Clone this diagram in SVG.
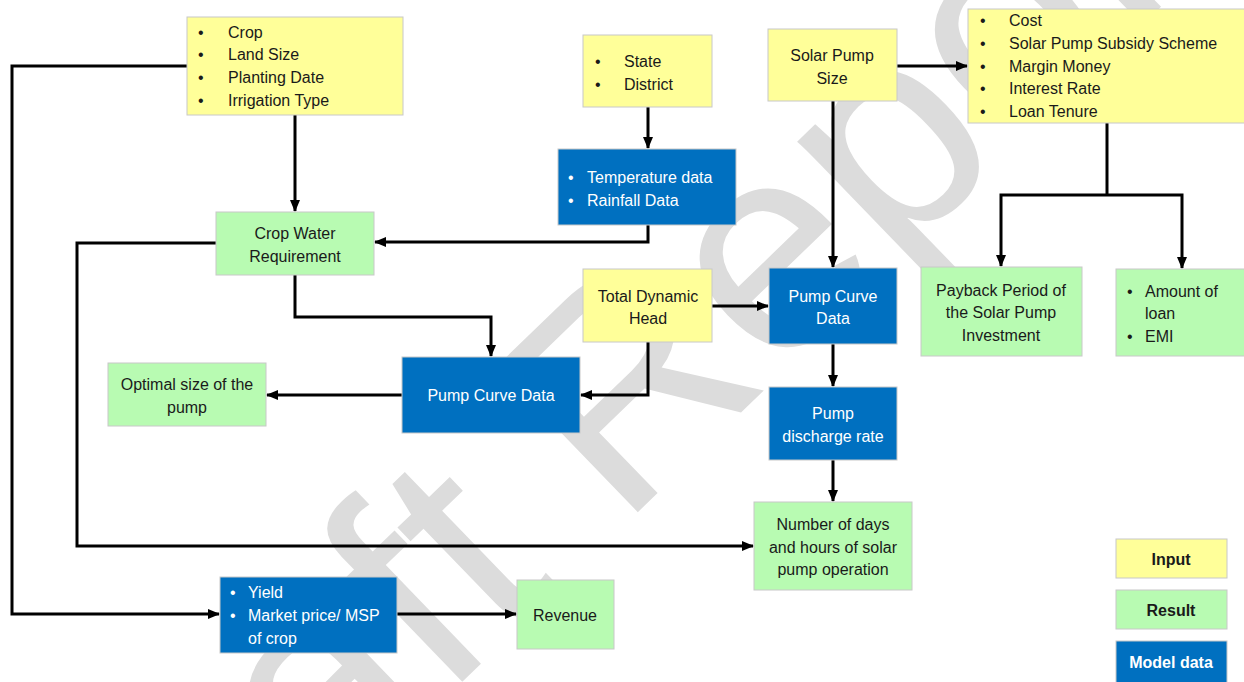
<svg xmlns="http://www.w3.org/2000/svg" width="1244" height="682" viewBox="0 0 1244 682">
<style>
.t{font-family:"Liberation Sans",Arial,sans-serif;font-size:16px;fill:#1a1a1a}
.w{font-family:"Liberation Sans",Arial,sans-serif;font-size:16px;fill:#ffffff}
.c{text-anchor:middle}
.b{font-weight:bold}
.y{fill:#ffff99;stroke:#c8c8c8;stroke-width:1}
.g{fill:#b8fbb2;stroke:#c8c8c8;stroke-width:1}
.m{fill:#0070c0;stroke:#c8c8c8;stroke-width:1}
.ln{fill:none;stroke:#000;stroke-width:3;marker-end:url(#a)}
.ln2{fill:none;stroke:#000;stroke-width:3}
.wm{font-family:"Liberation Sans",Arial,sans-serif;font-size:295px;fill:#dcdcdc}
</style>
<defs>
<marker id="a" markerUnits="userSpaceOnUse" markerWidth="12" markerHeight="12" viewBox="0 0 12 12" refX="11" refY="6" orient="auto">
<path d="M0,1 L12,6 L0,11 Z" fill="#000"/>
</marker>
</defs>
<rect width="1244" height="682" fill="#fff"/>
<g id="watermark"><text class="wm" transform="translate(610,400) rotate(-44)" text-anchor="middle" y="100">Draft Report</text></g>
<g id="connectors">
<path class="ln" d="M187,66 H12 V614 H219"/>
<path class="ln" d="M295,115 V211"/>
<path class="ln" d="M648,225 V242 H375"/>
<path class="ln" d="M216,243 H77 V546 H753"/>
<path class="ln" d="M295,275 V317 H491 V356"/>
<path class="ln" d="M648,342 V395 H581"/>
<path class="ln" d="M402,395 H267"/>
<path class="ln" d="M648,107 V148"/>
<path class="ln" d="M833,101 V267"/>
<path class="ln" d="M897,66 H967"/>
<path class="ln" d="M712,306 H768"/>
<path class="ln" d="M833,344 V386"/>
<path class="ln" d="M833,460 V501"/>
<path class="ln2" d="M1107,123 V195"/>
<path class="ln" d="M1107,195 H1001 V266"/>
<path class="ln" d="M1107,195 H1182 V268"/>
<path class="ln" d="M397,614 H516"/>
</g>
<g id="n-crop"><rect class="y" x="187" y="17" width="216" height="98"/>
<text class="t" x="198" y="38">•</text><text class="t" x="228" y="38">Crop</text>
<text class="t" x="198" y="60">•</text><text class="t" x="228" y="60">Land Size</text>
<text class="t" x="198" y="83">•</text><text class="t" x="228" y="83">Planting Date</text>
<text class="t" x="198" y="106">•</text><text class="t" x="228" y="106">Irrigation Type</text></g>
<g id="n-state"><rect class="y" x="583" y="35" width="129" height="72"/>
<text class="t" x="595" y="67">•</text><text class="t" x="624" y="67">State</text>
<text class="t" x="595" y="90">•</text><text class="t" x="624" y="90">District</text></g>
<g id="n-solarsize"><rect class="y" x="768" y="29" width="129" height="72"/>
<text class="t c" x="832" y="61">Solar Pump</text><text class="t c" x="832" y="84">Size</text></g>
<g id="n-cost"><rect class="y" x="968" y="9" width="280" height="114"/>
<text class="t" x="980" y="26">•</text><text class="t" x="1009" y="26">Cost</text>
<text class="t" x="980" y="49">•</text><text class="t" x="1009" y="49">Solar Pump Subsidy Scheme</text>
<text class="t" x="980" y="72">•</text><text class="t" x="1009" y="72">Margin Money</text>
<text class="t" x="980" y="94">•</text><text class="t" x="1009" y="94">Interest Rate</text>
<text class="t" x="980" y="117">•</text><text class="t" x="1009" y="117">Loan Tenure</text></g>
<g id="n-temp"><rect class="m" x="558" y="149" width="178" height="76"/>
<text class="w" x="568" y="183">•</text><text class="w" x="587" y="183">Temperature data</text>
<text class="w" x="568" y="206">•</text><text class="w" x="587" y="206">Rainfall Data</text></g>
<g id="n-cwr"><rect class="g" x="216" y="212" width="158" height="63"/>
<text class="t c" x="295" y="239">Crop Water</text><text class="t c" x="295" y="262">Requirement</text></g>
<g id="n-tdh"><rect class="y" x="583" y="269" width="129" height="73"/>
<text class="t c" x="648" y="302">Total Dynamic</text><text class="t c" x="648" y="324">Head</text></g>
<g id="n-pcd2"><rect class="m" x="769" y="268" width="128" height="76"/>
<text class="w c" x="833" y="302">Pump Curve</text><text class="w c" x="833" y="324">Data</text></g>
<g id="n-pcd1"><rect class="m" x="402" y="357" width="178" height="76"/>
<text class="w c" x="491" y="401">Pump Curve Data</text></g>
<g id="n-opt"><rect class="g" x="108" y="363" width="158" height="63"/>
<text class="t c" x="187" y="390">Optimal size of the</text><text class="t c" x="187" y="413">pump</text></g>
<g id="n-discharge"><rect class="m" x="769" y="387" width="128" height="73"/>
<text class="w c" x="833" y="419">Pump</text><text class="w c" x="833" y="442">discharge rate</text></g>
<g id="n-days"><rect class="g" x="754" y="502" width="158" height="88"/>
<text class="t c" x="833" y="530">Number of days</text><text class="t c" x="833" y="553">and hours of solar</text><text class="t c" x="833" y="575">pump operation</text></g>
<g id="n-payback"><rect class="g" x="921" y="267" width="161" height="89"/>
<text class="t c" x="1001" y="296">Payback Period of</text><text class="t c" x="1001" y="318">the Solar Pump</text><text class="t c" x="1001" y="341">Investment</text></g>
<g id="n-loan"><rect class="g" x="1116" y="269" width="132" height="87"/>
<text class="t" x="1127" y="297">•</text><text class="t" x="1145" y="297">Amount of</text>
<text class="t" x="1145" y="319">loan</text>
<text class="t" x="1127" y="342">•</text><text class="t" x="1145" y="342">EMI</text></g>
<g id="n-yield"><rect class="m" x="220" y="577" width="177" height="76"/>
<text class="w" x="230" y="598">•</text><text class="w" x="248" y="598">Yield</text>
<text class="w" x="230" y="621">•</text><text class="w" x="248" y="621">Market price/ MSP</text>
<text class="w" x="248" y="644">of crop</text></g>
<g id="n-revenue"><rect class="g" x="517" y="580" width="97" height="69"/>
<text class="t c" x="565" y="621">Revenue</text></g>
<g id="legend">
<g id="lg-input"><rect class="y" x="1116" y="539" width="111" height="39"/><text class="t c b" x="1171" y="565">Input</text></g>
<g id="lg-result"><rect class="g" x="1116" y="590" width="111" height="39"/><text class="t c b" x="1171" y="616">Result</text></g>
<g id="lg-model"><rect class="m" x="1116" y="641" width="111" height="45"/><text class="w c b" x="1171" y="668">Model data</text></g>
</g>
</svg>
